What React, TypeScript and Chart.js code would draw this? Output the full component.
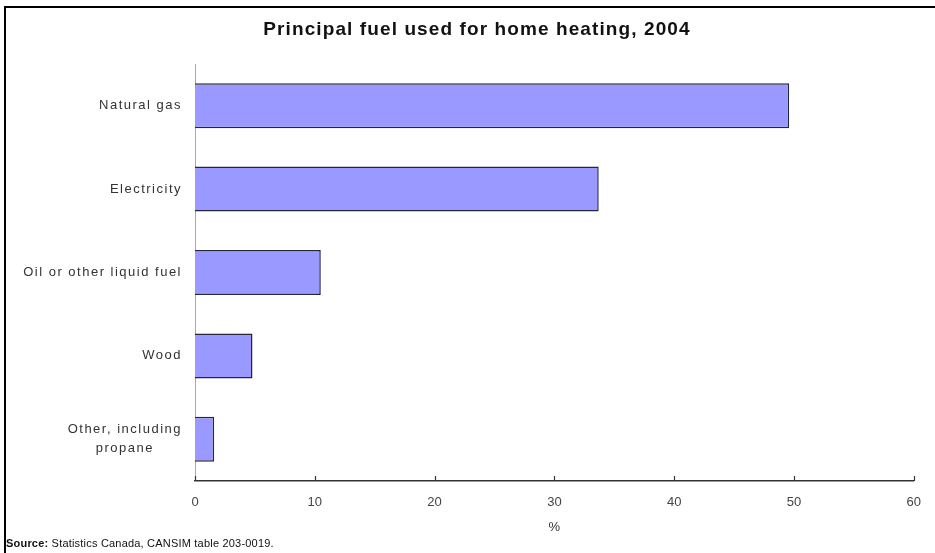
import React, { useEffect, useRef } from "react";
import { Chart, registerables } from "chart.js";

Chart.register(...registerables);

// Principal heating fuel, share of households (%)
const categories: (string | string[])[] = [
  "Natural gas",
  "Electricity",
  "Oil or other liquid fuel",
  "Wood",
  ["Other, including", "propane"],
];
const shares: number[] = [49.6, 33.7, 10.5, 4.8, 1.6];
const xMin = 0;
const xMax = 60;
const xStep = 10;
const chartTitle = "Principal fuel used for home heating, 2004";
const axisTitle = "%";
const sourceLead = "Source:";
const sourceRest = " Statistics Canada, CANSIM table 203-0019.";

const W = 935;
const H = 553;
const FONT = "'Liberation Sans', Arial, sans-serif";

// Frame, title, category labels, inner tick marks and source note
const decorPlugin = {
  id: "decor",
  afterDraw(chart: any) {
    const ctx: CanvasRenderingContext2D = chart.ctx;
    const xs = chart.scales.x;
    const ys = chart.scales.y;
    ctx.save();

    // outer frame (top and left edges)
    ctx.strokeStyle = "#000";
    ctx.lineWidth = 2;
    ctx.beginPath();
    ctx.moveTo(W, 7);
    ctx.lineTo(5, 7);
    ctx.lineTo(5, H);
    ctx.stroke();

    // title
    ctx.fillStyle = "#111";
    ctx.font = `bold 19px ${FONT}`;
    ctx.textAlign = "center";
    ctx.textBaseline = "middle";
    (ctx as any).letterSpacing = "1.1px";
    ctx.fillText(chartTitle, 477, 30);

    // category labels, lines centred on each other, block right-aligned
    ctx.font = `13px ${FONT}`;
    ctx.fillStyle = "#333";
    (ctx as any).letterSpacing = "1.5px";
    const rightEdge = 182;
    const lineH = 19;
    categories.forEach((cat, i) => {
      const lines = Array.isArray(cat) ? cat : [cat];
      const widths = lines.map((l) => ctx.measureText(l).width);
      const maxW = Math.max(...widths);
      const cx = rightEdge - maxW / 2;
      const cy = ys.getPixelForValue(i);
      lines.forEach((l, j) => {
        const y = cy + (j - (lines.length - 1) / 2) * lineH;
        ctx.textAlign = "center";
        ctx.fillText(l, cx, y);
      });
    });

    // tick marks pointing into the plot
    ctx.strokeStyle = "#333";
    ctx.lineWidth = 1.2;
    const base = chart.chartArea.bottom;
    xs.ticks.forEach((t: any) => {
      const px = Math.round(xs.getPixelForValue(t.value)) + 0.5;
      ctx.beginPath();
      ctx.moveTo(px, base);
      ctx.lineTo(px, base - 5);
      ctx.stroke();
    });

    // source note
    ctx.textAlign = "left";
    ctx.textBaseline = "middle";
    (ctx as any).letterSpacing = "0.2px";
    ctx.fillStyle = "#111";
    ctx.font = `bold 11px ${FONT}`;
    ctx.fillText(sourceLead, 6, 544);
    const lw = ctx.measureText(sourceLead).width;
    ctx.font = `11px ${FONT}`;
    ctx.fillText(sourceRest, 6 + lw, 544);

    ctx.restore();
  },
};

export default function App() {
  const ref = useRef<HTMLCanvasElement>(null);

  useEffect(() => {
    if (!ref.current) return;
    const chart = new Chart(ref.current, {
      type: "bar",
      data: {
        labels: categories,
        datasets: [
          {
            data: shares,
            backgroundColor: "#9999ff",
            borderColor: "#26263a",
            borderWidth: 1.5,
            barPercentage: 0.54,
            categoryPercentage: 1,
          },
        ],
      },
      options: {
        indexAxis: "y",
        animation: false,
        responsive: false,
        devicePixelRatio: 1,
        layout: { padding: { left: 0, right: 16, top: 64, bottom: 0 } },
        plugins: {
          legend: { display: false },
          tooltip: { enabled: false },
          title: { display: false },
        },
        scales: {
          x: {
            type: "linear",
            min: xMin,
            max: xMax,
            ticks: {
              stepSize: xStep,
              padding: 14,
              color: "#444",
              font: { family: FONT, size: 13 },
            },
            grid: { display: false, drawTicks: false },
            border: { display: true, color: "#333", width: 1.5 },
            title: {
              display: true,
              text: axisTitle,
              color: "#333",
              font: { family: FONT, size: 13 },
              padding: { top: 0, bottom: 18 },
            },
            afterFit(scale: any) {
              scale.height = 72;
            },
          },
          y: {
            type: "category",
            ticks: { display: false },
            grid: { display: false, drawTicks: false },
            border: { display: true, color: "#aaa", width: 1 },
            afterFit(scale: any) {
              scale.width = 195;
            },
          },
        },
      },
      plugins: [decorPlugin],
    } as any);
    return () => chart.destroy();
  }, []);

  return (
    <div style={{ position: "absolute", left: 0, top: 0, width: W, height: H, background: "#fff" }}>
      <canvas ref={ref} width={W} height={H} />
    </div>
  );
}
